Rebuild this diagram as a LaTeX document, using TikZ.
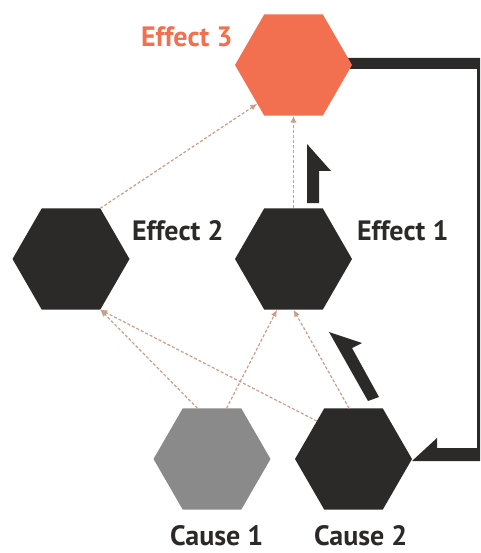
\documentclass[tikz,border=0pt]{standalone}
\usepackage{fontspec}
\setmainfont{PT Sans}
\usetikzlibrary{shapes.geometric,arrows.meta}
\definecolor{ink}{HTML}{2B2A28}
\definecolor{hexgray}{HTML}{8A8A8A}
\definecolor{coral}{HTML}{F2704F}
\definecolor{tan}{HTML}{CC9E8A}
\tikzset{
  hexa/.style={regular polygon, regular polygon sides=6, minimum size=117pt,
    inner sep=0pt, outer sep=0pt, draw=none, fill=ink},
  lbl/.style={anchor=base west, inner sep=0pt, outer sep=0pt, text=ink,
    font=\bfseries\fontsize{28}{30}\selectfont},
  link/.style={draw=tan, line width=1.2pt, dash pattern=on 3pt off 2pt,
    -{Latex[length=7pt,width=6pt]}, shorten >=0pt},
  bigarrow/.style={fill=ink, draw=none}
}
\begin{document}
\begin{tikzpicture}[x=1pt,y=-1pt]
\clip (0,0) rectangle (480,553);
\fill[white] (0,0) rectangle (480,553);
% thick loop arrow (behind the hexagons)
\fill[bigarrow] (345,58) -- (488,58) -- (488,461) -- (412,461) -- (437,438)
  -- (437,448) -- (477,448) -- (477,69) -- (345,69) -- cycle;
% hexagons
\node[hexa, fill=coral] (e3) at (293.5,65) {};
\node[hexa] (e2) at (71,259) {};
\node[hexa] (e1) at (293.5,259) {};
\node[hexa, fill=hexgray] (c1) at (212,459) {};
\node[hexa] (c2) at (353.5,459) {};
% labels
\node[lbl, text=coral] (t3) at (141,47) {Effect 3};
\node[lbl] (t2) at (132,240) {Effect 2};
\node[lbl] (t1) at (357,240) {Effect 1};
\node[lbl] (tc1) at (170,545) {Cause 1};
\node[lbl] (tc2) at (314,545) {Cause 2};
% dotted links
\draw[link] (e2.60) -- (e3.227);
\draw[link] (e1.north) -- (e3.south);
\draw[link] (c1.106) -- (e2.300);
\draw[link] (c1.74) -- (e1.252);
\draw[link] (c2.134.6) -- (e2.300);
\draw[link] (c2.95) -- (e1.south);
% thick harpoon arrows
\fill[bigarrow] (307,203) -- (307,144) -- (331,171) -- (319,171) -- (319,203) -- cycle;
\fill[bigarrow] (368,401) -- (329,332) -- (362,343) -- (352,348) -- (379,397) -- cycle;
\end{tikzpicture}
\end{document}
